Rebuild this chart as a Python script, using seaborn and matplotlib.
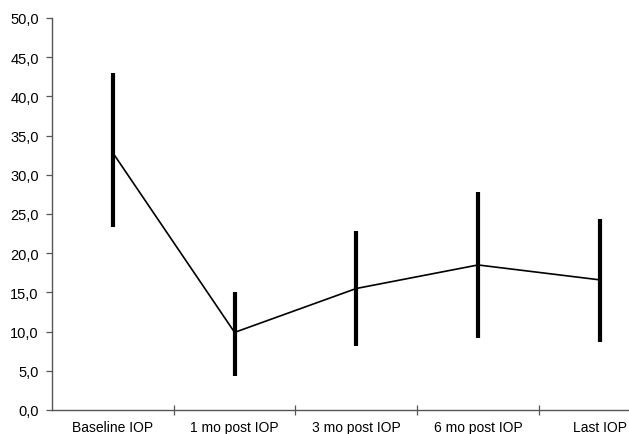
import matplotlib
matplotlib.use("Agg")
import matplotlib.pyplot as plt
import seaborn as sns
import pandas as pd
from matplotlib.ticker import FixedLocator, NullFormatter

categories = ["Baseline IOP", "1 mo post IOP", "3 mo post IOP", "6 mo post IOP", "Last IOP"]
means = [32.8, 9.9, 15.5, 18.5, 16.6]
lower = [23.4, 4.4, 8.2, 9.2, 8.7]
upper = [43.0, 15.0, 22.8, 27.8, 24.4]
y_ticks = [0, 5, 10, 15, 20, 25, 30, 35, 40, 45, 50]
y_tick_labels = ["0,0", "5,0", "10,0", "15,0", "20,0", "25,0", "30,0", "35,0", "40,0", "45,0", "50,0"]

df = pd.DataFrame({"cat": categories, "mean": means, "lo": lower, "hi": upper})
df["x"] = range(len(categories))

sns.set_style("white")
plt.rcParams["font.family"] = ["Liberation Sans", "DejaVu Sans"]

fig = plt.figure(figsize=(6.29, 4.35), dpi=100)
ax = fig.add_axes([52 / 629, 1 - 411 / 435, (629 - 52) / 629, (411 - 19) / 435])

ax.vlines(df["x"], df["lo"], df["hi"], colors="black", linewidth=3.0, zorder=3)
sns.lineplot(data=df, x="x", y="mean", ax=ax, color="black", linewidth=1.2,
             marker=None, sort=False, zorder=4)

ax.set_xlim(-0.5, 4.24)
ax.set_ylim(0, 50)
ax.set_yticks(y_ticks)
ax.set_yticklabels(y_tick_labels, fontsize=10.5, color="black")
ax.set_xticks(df["x"])
ax.set_xticklabels(categories, fontsize=10, color="black")
ax.tick_params(axis="x", which="major", length=0, pad=7.5)
ax.xaxis.set_minor_locator(FixedLocator([0.5, 1.5, 2.5, 3.5]))
ax.xaxis.set_minor_formatter(NullFormatter())
ax.tick_params(axis="x", which="minor", direction="inout", length=7, width=0.9,
               color="#555555", bottom=True)
ax.tick_params(axis="y", which="major", direction="out", length=4.5, width=0.9,
               color="#555555", left=True, pad=5)

ax.set_xlabel("")
ax.set_ylabel("")
for s in ["top", "right"]:
    ax.spines[s].set_visible(False)
for s in ["left", "bottom"]:
    ax.spines[s].set_color("#555555")
    ax.spines[s].set_linewidth(1.0)
ax.grid(False)

fig.savefig("out.png", dpi=100)
